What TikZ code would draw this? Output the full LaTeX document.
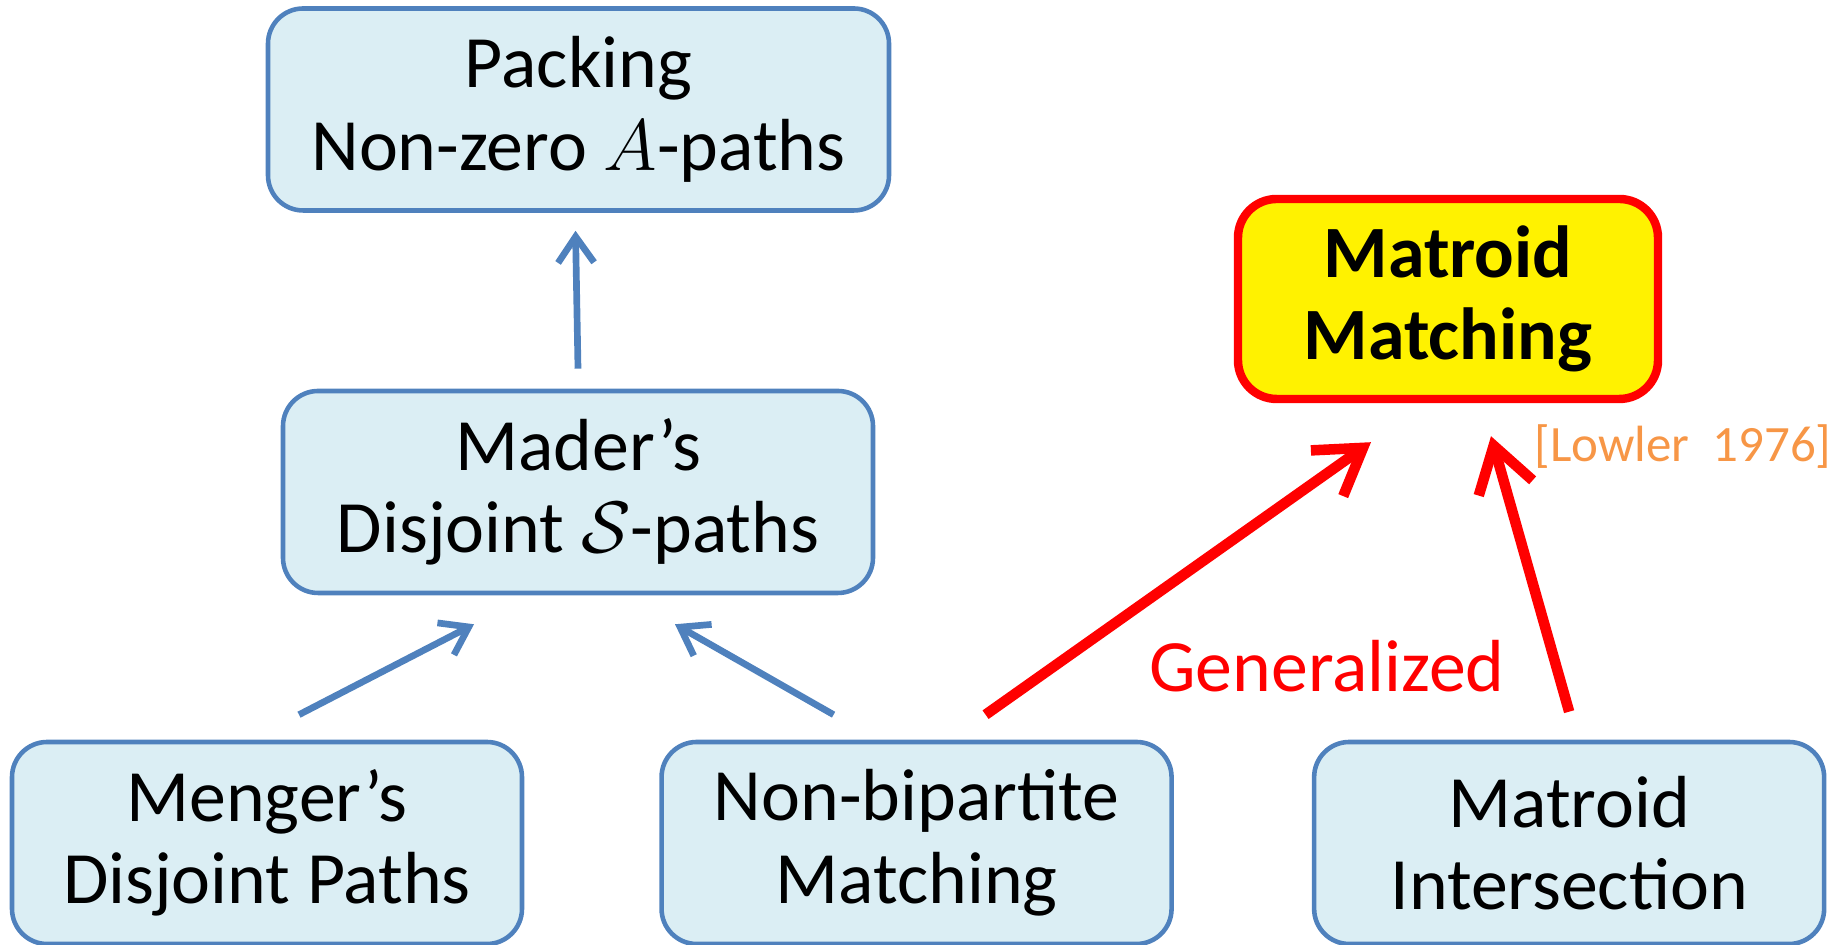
\documentclass[tikz,border=0pt]{standalone}
\usepackage{fontspec}
\setmainfont{Carlito}
\usepackage{tikz}
\usetikzlibrary{arrows.meta,positioning,calc}
\definecolor{boxblue}{RGB}{79,129,189}
\definecolor{boxfill}{RGB}{219,238,244}
\definecolor{citeorange}{RGB}{247,150,70}
\tikzset{
  mbox/.style={rectangle,rounded corners=10pt,draw=boxblue,fill=boxfill,line width=1.3pt,
               minimum width=#1,minimum height=2.02cm,align=center,
               font=\fontsize{21}{23.5}\selectfont},
  mbox/.default=5.1cm,
  hbox/.style={rectangle,rounded corners=11pt,draw=red,fill=yellow,line width=2.4pt,
               minimum width=4.2cm,minimum height=2cm,align=center,
               font=\fontsize{21}{23.5}\selectfont\bfseries},
  arr/.style={-{Straight Barb[length=2.6mm,width=3.6mm]},line width=1.9pt,color=boxblue},
  rarr/.style={-{Straight Barb[length=4.4mm,width=5.6mm]},line width=3pt,color=red},
}

\begin{document}
\begin{tikzpicture}[node distance=1.35cm]
    \useasboundingbox (0,0) rectangle (18.41,9.45);

    % bottom row
    \node[mbox] (menger) at (2.67,1.02) {Menger’s\\Disjoint Paths};
    \node[mbox, right=of menger] (nb) {Non-bipartite\\Matching};
    \node[mbox, right=1.38cm of nb] (mi) {Matroid\\Intersection};

    % upper nodes
    \node[mbox=5.9cm] (mader) at (5.78,4.53) {Mader’s\\Disjoint $\mathcal{S}$-paths};
    \node[mbox=6.21cm] (packing) at (5.785,8.355) {Packing\\Non-zero $A$-paths};
    \node[hbox] (mm) at (14.48,6.46) {Matroid\\Matching};

    % labels
    \node[font=\fontsize{14.5}{17}\selectfont, text=citeorange] (cite) at (16.83,4.98) {[Lowler\ \ 1976]};
    \node[font=\fontsize{21}{23.5}\selectfont, text=red] (gen) at (13.27,2.79) {Generalized};

    % arrows
    \draw[arr] ($(mader.north)+(0,0.2)$) -- ($(packing.south)+(-0.03,-0.18)$);
    \draw[arr] ($(menger.north)+(0.32,0.25)$) -- ($(mader.south)+(-1.04,-0.29)$);
    \draw[arr] ($(nb.north)+(-0.83,0.25)$) -- ($(mader.south)+(0.97,-0.29)$);
    \draw[rarr] ($(nb.north)+(0.69,0.25)$) -- ($(mm.south)+(-0.77,-0.39)$);
    \draw[rarr] ($(mi.north)+(0,0.28)$) -- ($(mm.south)+(0.43,-0.33)$);
\end{tikzpicture}
\end{document}
